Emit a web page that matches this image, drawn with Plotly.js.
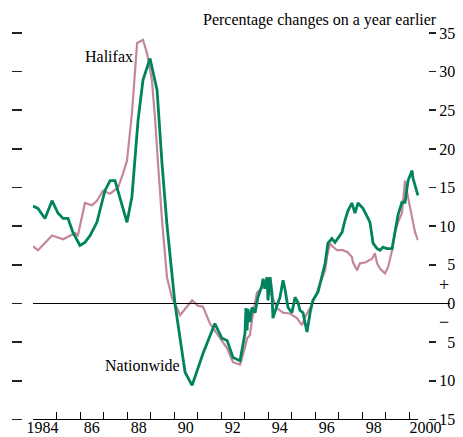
<!DOCTYPE html>
<html>
<head>
<meta charset="utf-8">
<script src="https://cdn.plot.ly/plotly-3.0.1.min.js"></script>
<style>html,body{margin:0;padding:0;background:#fff;}#chart{width:463px;height:437px;}</style>
</head>
<body>
<div id="chart"></div>
<script>
// Halifax house price index, % change on a year earlier
const halifaxDates = [1984.00,1984.21,1984.81,1985.28,1985.79,1985.91,1986.21,1986.51,1986.72,1986.98,1987.28,1987.62,1987.83,1988.00,1988.21,1988.43,1988.68,1988.85,1989.06,1989.19,1989.32,1989.49,1989.70,1989.91,1990.26,1990.77,1991.02,1991.23,1991.53,1991.74,1992.04,1992.26,1992.51,1992.81,1993.02,1993.11,1993.23,1993.36,1993.53,1993.79,1993.96,1994.09,1994.17,1994.38,1994.64,1994.94,1995.23,1995.45,1995.57,1995.79,1996.00,1996.21,1996.43,1996.51,1996.64,1996.77,1996.94,1997.19,1997.40,1997.57,1997.62,1997.79,1997.91,1998.13,1998.43,1998.55,1998.64,1998.77,1998.98,1999.11,1999.28,1999.40,1999.53,1999.70,1999.83,1999.96,2000.13,2000.26,2000.38];
const halifaxValues = [7.4,6.9,8.8,8.3,9.1,8.8,13.0,12.7,13.3,14.6,14.2,15.0,16.8,18.5,24.6,33.7,34.1,32.4,28.9,24.1,18.1,10.8,3.4,0.8,-1.5,0.4,-0.3,-0.4,-2.6,-3.5,-4.8,-5.8,-7.6,-7.9,-5.7,-4.5,-4.1,-1.3,1.4,2.1,3.4,1.3,1.0,-0.6,-1.2,-1.3,-1.9,-2.8,-1.8,-0.6,0.8,2.6,4.3,6.0,7.8,7.3,6.9,6.9,6.6,6.0,5.3,4.3,5.2,5.3,5.8,6.5,5.2,4.5,3.9,4.7,6.9,9.1,10.5,11.7,15.9,13.7,11.1,9.2,8.2];

// Nationwide house price index, % change on a year earlier
const nationwideDates = [1984.00,1984.21,1984.51,1984.81,1985.06,1985.28,1985.49,1985.70,1986.00,1986.21,1986.43,1986.72,1987.06,1987.28,1987.49,1987.70,1988.00,1988.21,1988.47,1988.68,1988.98,1989.28,1989.49,1989.70,1990.04,1990.47,1990.77,1991.23,1991.74,1992.04,1992.26,1992.51,1992.81,1993.02,1993.06,1993.11,1993.15,1993.23,1993.32,1993.45,1993.57,1993.74,1993.79,1993.87,1993.96,1994.00,1994.09,1994.17,1994.21,1994.38,1994.51,1994.64,1994.72,1994.85,1995.02,1995.15,1995.28,1995.36,1995.49,1995.57,1995.66,1995.79,1995.91,1996.13,1996.30,1996.43,1996.55,1996.72,1996.85,1996.98,1997.15,1997.28,1997.40,1997.57,1997.70,1997.83,1998.04,1998.26,1998.34,1998.47,1998.64,1998.77,1998.89,1999.06,1999.28,1999.40,1999.53,1999.70,1999.83,1999.96,2000.13,2000.17,2000.30,2000.38];
const nationwideValues = [12.6,12.3,11.0,13.3,11.7,11.0,11.0,9.2,7.5,7.9,8.8,10.5,14.6,15.9,15.9,13.7,10.5,13.8,23.7,28.9,31.7,27.6,18.1,10.2,0.0,-8.9,-10.6,-6.5,-2.6,-4.5,-4.8,-7.0,-7.4,-3.9,-0.6,-3.5,-0.7,-2.4,-0.5,-1.2,0.8,2.3,3.2,1.9,3.4,0.4,3.4,1.3,-1.9,-0.3,0.8,3.0,1.9,-0.5,-1.2,0.8,0.1,-0.9,-1.2,-2.4,-3.7,-1.2,0.4,1.5,3.5,5.2,7.8,8.4,7.9,8.5,9.2,10.8,12.0,13.0,11.7,13.0,12.3,11.0,10.5,7.8,7.1,6.9,7.3,7.1,7.1,9.2,11.4,13.1,13.1,15.9,17.2,16.2,15.0,14.0];

// axis ticks and labels
const yearTicks = [1984,1985,1986,1987,1988,1989,1990,1991,1992,1993,1994,1995,1996,1997,1998,1999,2000];
const yearLabelPos = [1984.4,1986.5,1988.5,1990.5,1992.5,1994.5,1996.5,1998.5,2000.7];
const yearLabels = ['1984','86','88','90','92','94','96','98','2000'];
const yTicks = [35,30,25,20,15,10,5,0,-5,-10,-15];
const yTickText = ['35','30','25','20','15','10','\u20025','\u20020','\u20025','10','15'];

const W = 463, H = 437;
const px = x => x / W;
const py = y => 1 - y / H;

const FONT = '"Liberation Serif", "Times New Roman", Times, serif';
const GREEN = '#00835E';
const PINK = '#C4879A';

const traces = [
  {x: halifaxDates, y: halifaxValues, xaxis: 'x', yaxis: 'y2', type: 'scatter', mode: 'lines', name: 'Halifax',
   line: {color: PINK, width: 2.2}, hoverinfo: 'skip'},
  {x: nationwideDates, y: nationwideValues, xaxis: 'x2', yaxis: 'y', type: 'scatter', mode: 'lines', name: 'Nationwide',
   line: {color: GREEN, width: 2.8}, hoverinfo: 'skip'}
];

const yDomain = [py(419.4), py(33)];

const layout = {
  width: W, height: H,
  margin: {l: 0, r: 0, t: 0, b: 0},
  paper_bgcolor: '#fff', plot_bgcolor: 'rgba(0,0,0,0)',
  showlegend: false, hovermode: false,
  font: {family: FONT, size: 16, color: '#000'},
  xaxis: {
    domain: [px(33), px(418.4)], range: [1984, 2000.4], anchor: 'y',
    tickvals: yearTicks, ticks: 'inside', ticklen: 7, tickwidth: 1, tickcolor: '#000',
    showticklabels: false, showline: true, linecolor: '#000', linewidth: 1,
    showgrid: false, zeroline: false, automargin: false, fixedrange: true
  },
  xaxis2: {
    domain: [px(33), px(450)], range: [1984, 1984 + (450 - 33) / 23.5], anchor: 'y',
    tickvals: yearLabelPos, ticktext: yearLabels, ticks: '', showline: false,
    showgrid: false, zeroline: false, automargin: false, fixedrange: true,
    ticklabelstandoff: -3,
    tickfont: {family: FONT, size: 16, color: '#000'}
  },
  yaxis: {
    domain: yDomain, range: [-15, 35], anchor: 'free', position: px(22), side: 'left',
    tickvals: yTicks, ticks: 'outside', ticklen: 10, tickwidth: 1.6, tickcolor: '#222',
    showticklabels: false, showline: false, showgrid: false,
    zeroline: true, zerolinecolor: '#000', zerolinewidth: 1,
    automargin: false, fixedrange: true
  },
  yaxis2: {
    overlaying: 'y', range: [-15, 35], anchor: 'free', position: px(428), side: 'right',
    tickvals: yTicks, ticktext: yTickText, ticks: 'outside', ticklen: 7, tickwidth: 1.6, tickcolor: '#222',
    showline: false, showgrid: false, zeroline: false, automargin: false, fixedrange: true,
    tickfont: {family: FONT, size: 16, color: '#000'}
  },
  annotations: [
    {text: 'Percentage changes on a year earlier', xref: 'paper', yref: 'paper',
     x: px(439), y: py(20), xanchor: 'right', yanchor: 'middle', showarrow: false,
     font: {family: FONT, size: 16, color: '#000'}},
    {text: 'Halifax', xref: 'paper', yref: 'paper', x: px(83), y: py(56),
     xanchor: 'left', yanchor: 'middle', showarrow: false,
     font: {family: FONT, size: 16, color: '#000'}},
    {text: 'Nationwide', xref: 'paper', yref: 'paper', x: px(103), y: py(365),
     xanchor: 'left', yanchor: 'middle', showarrow: false,
     font: {family: FONT, size: 16, color: '#000'}},
    {text: '+', xref: 'paper', yref: 'paper', x: px(444), y: py(285),
     xanchor: 'center', yanchor: 'middle', showarrow: false,
     font: {family: FONT, size: 18, color: '#000'}},
    {text: '\u2212', xref: 'paper', yref: 'paper', x: px(444), y: py(322),
     xanchor: 'center', yanchor: 'middle', showarrow: false,
     font: {family: FONT, size: 18, color: '#000'}}
  ]
};

Plotly.newPlot('chart', traces, layout, {displayModeBar: false, staticPlot: true});
</script>
</body>
</html>
